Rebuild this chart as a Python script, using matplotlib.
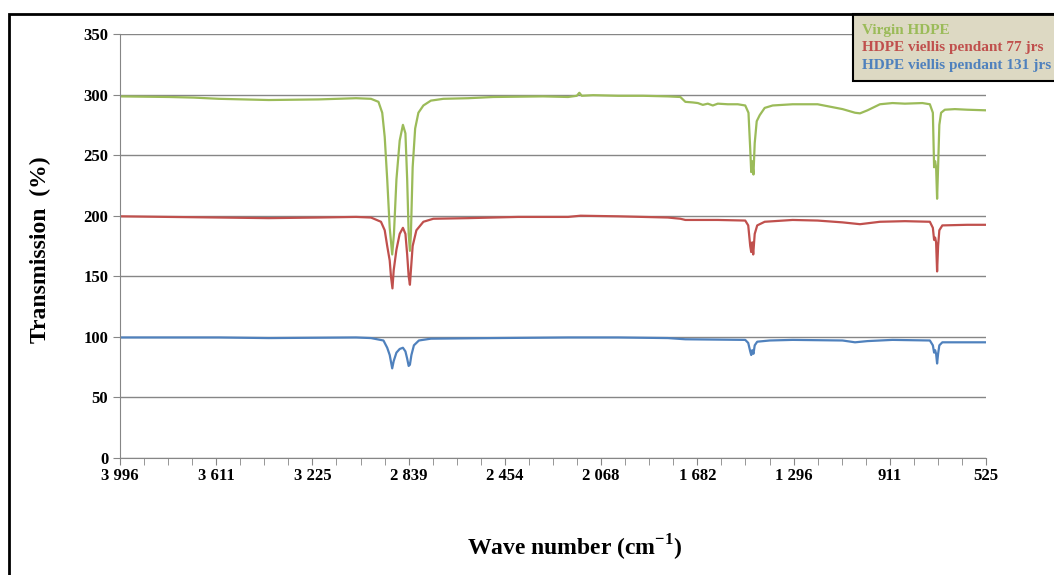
import matplotlib.pyplot as plt
from matplotlib.patches import Rectangle

plt.rcParams['font.family'] = ['Liberation Serif', 'DejaVu Serif']
plt.rcParams['mathtext.fontset'] = 'custom'
plt.rcParams['mathtext.rm'] = 'Liberation Serif:bold'
plt.rcParams['mathtext.bf'] = 'Liberation Serif:bold'

# FTIR spectra (wave number, transmission)
wn_virgin = [3996, 3800, 3700, 3600, 3400, 3200, 3050, 2990, 2960, 2945, 2935, 2925, 2915, 2905,
             2898, 2888, 2875, 2862, 2852, 2845, 2839, 2834, 2830, 2823, 2813, 2800, 2780, 2750,
             2700, 2600, 2500, 2300, 2200, 2165, 2155, 2145, 2100, 2000, 1900, 1800, 1750, 1730,
             1700, 1680, 1660, 1640, 1620, 1600, 1560, 1520, 1490, 1477, 1470, 1466, 1462, 1457,
             1452, 1444, 1432, 1412, 1380, 1300, 1200, 1150, 1100, 1050, 1030, 1000, 950, 900,
             850, 780, 750, 738, 733, 729, 725, 721, 717, 712, 705, 690, 650, 600, 525]
t_virgin = [298.5, 298, 297.5, 296.5, 295.5, 296, 297, 296.5, 294, 285, 265, 230, 190, 168,
            185, 230, 262, 275, 268, 230, 185, 171, 185, 240, 272, 285, 291, 295,
            296.5, 297, 298, 298.5, 298, 299, 301.5, 299, 299.5, 299, 299, 298.5, 298, 294,
            293.5, 293, 291.5, 292.5, 291, 292.5, 292, 292, 291, 285, 255, 236, 245, 234,
            260, 278, 283, 289, 291, 292, 292, 290, 288, 285, 284.5, 287, 292, 293,
            292.5, 293, 292, 285, 240, 245, 240, 214, 240, 275, 285, 287.5, 288, 287.5, 287]

wn_77 = [3996, 3800, 3600, 3400, 3200, 3050, 2990, 2950, 2935, 2925, 2915, 2910, 2904, 2899,
         2888, 2875, 2862, 2852, 2845, 2839, 2834, 2830, 2823, 2808, 2780, 2740, 2600, 2400,
         2200, 2150, 2000, 1800, 1750, 1730, 1600, 1490, 1478, 1470, 1466, 1462, 1458, 1452,
         1442, 1412, 1300, 1200, 1100, 1030, 950, 850, 750, 738, 733, 729, 725, 721, 717, 712,
         700, 600, 525]
t_77 = [199.5, 199, 198.5, 198, 198.5, 199, 198.5, 195, 188, 175, 163, 150, 140, 155,
        172, 185, 190, 185, 168, 150, 143, 155, 175, 188, 195, 197.5, 198, 199,
        199, 200, 199.5, 198.5, 197.5, 196.5, 196.5, 196, 192, 175, 170, 178, 168, 185,
        192, 195, 196.5, 196, 194.5, 193, 195, 195.5, 195, 190, 180, 182, 178, 154, 175, 188,
        192, 192.5, 192.5]

wn_131 = [3996, 3600, 3400, 3050, 2990, 2940, 2925, 2915, 2905, 2899, 2888, 2875, 2862, 2852,
          2845, 2839, 2834, 2828, 2818, 2798, 2750, 2500, 2200, 2000, 1800, 1730, 1490, 1478,
          1470, 1466, 1462, 1457, 1452, 1442, 1392, 1300, 1100, 1050, 1000, 900, 750, 738,
          733, 729, 725, 721, 717, 712, 700, 525]
t_131 = [99.5, 99.5, 99, 99.5, 99, 97, 91, 85, 74, 80, 87, 90, 91, 88,
         82, 76, 77, 85, 93, 97, 98.5, 99, 99.5, 99.5, 99, 98, 97.5, 95,
         88, 85, 89, 86, 93, 96, 97, 97.5, 97, 95.5, 96.5, 97.5, 97, 93,
         87, 89, 86, 78, 86, 93, 95.5, 95.5]

x_ticks = [3996, 3611, 3225, 2839, 2454, 2068, 1682, 1296, 911, 525]
x_labels = ['3 996', '3 611', '3 225', '2 839', '2 454', '2 068', '1 682', '1 296', '911', '525']
y_ticks = [0, 50, 100, 150, 200, 250, 300, 350]

series_names = ['Virgin HDPE', 'HDPE viellis pendant 77 jrs', 'HDPE viellis pendant 131 jrs']
colors = ['#9BBB59', '#C0504D', '#4F81BD']

fig = plt.figure(figsize=(10.54, 5.75), dpi=100)
ax = fig.add_axes([120/1054, 117/575, 866/1054, 424/575])

ax.plot(wn_virgin, t_virgin, color=colors[0], lw=1.6, label=series_names[0])
ax.plot(wn_77, t_77, color=colors[1], lw=1.6, label=series_names[1])
ax.plot(wn_131, t_131, color=colors[2], lw=1.6, label=series_names[2])

ax.set_xlim(3996, 525)
ax.set_ylim(0, 350)
ax.set_xticks(x_ticks)
ax.set_xticklabels(x_labels)
minor = [x_ticks[i] - (x_ticks[i] - x_ticks[i + 1]) * k / 4
         for i in range(len(x_ticks) - 1) for k in (1, 2, 3)]
ax.set_xticks(minor, minor=True)
ax.set_yticks(y_ticks)

ax.grid(axis='y', color='#868686', lw=1)
ax.set_axisbelow(True)
for s in ['top', 'right']:
    ax.spines[s].set_visible(False)
for s in ['left', 'bottom']:
    ax.spines[s].set_color('#868686')
ax.tick_params(axis='both', which='both', direction='out', length=5, color='#868686',
               labelsize=12)
ax.tick_params(axis='x', pad=2)
for lab in ax.get_xticklabels() + ax.get_yticklabels():
    lab.set_fontweight('bold')

fig.text(40/1054, 1 - 250/575, 'Transmission  (%)', rotation=90, ha='center', va='center',
         fontsize=17, fontweight='bold')
fig.text(575/1054, 1 - 548/575, r'Wave number (cm$^{-1}$)', ha='center', va='center',
         fontsize=17, fontweight='bold')

# outer frame of the chart
fig.add_artist(Rectangle((9/1054, -0.05), 1.2, 1 - 14/575 + 0.05, transform=fig.transFigure,
                         fill=False, edgecolor='black', lw=2))

leg = ax.legend(loc='upper left', bbox_to_anchor=(853/1054, 1 - 14/575),
                bbox_transform=fig.transFigure, borderaxespad=0, handlelength=0,
                handletextpad=0, frameon=True, fancybox=False, borderpad=0.6,
                labelspacing=0.25, prop={'weight': 'bold', 'size': 11})
leg.get_frame().set_facecolor('#DDD9C3')
leg.get_frame().set_edgecolor('black')
leg.get_frame().set_linewidth(1.5)
leg.get_frame().set_alpha(1)
for txt, c in zip(leg.get_texts(), colors):
    txt.set_color(c)
for h in leg.legend_handles:
    h.set_visible(False)

plt.savefig('out.png', dpi=100)
